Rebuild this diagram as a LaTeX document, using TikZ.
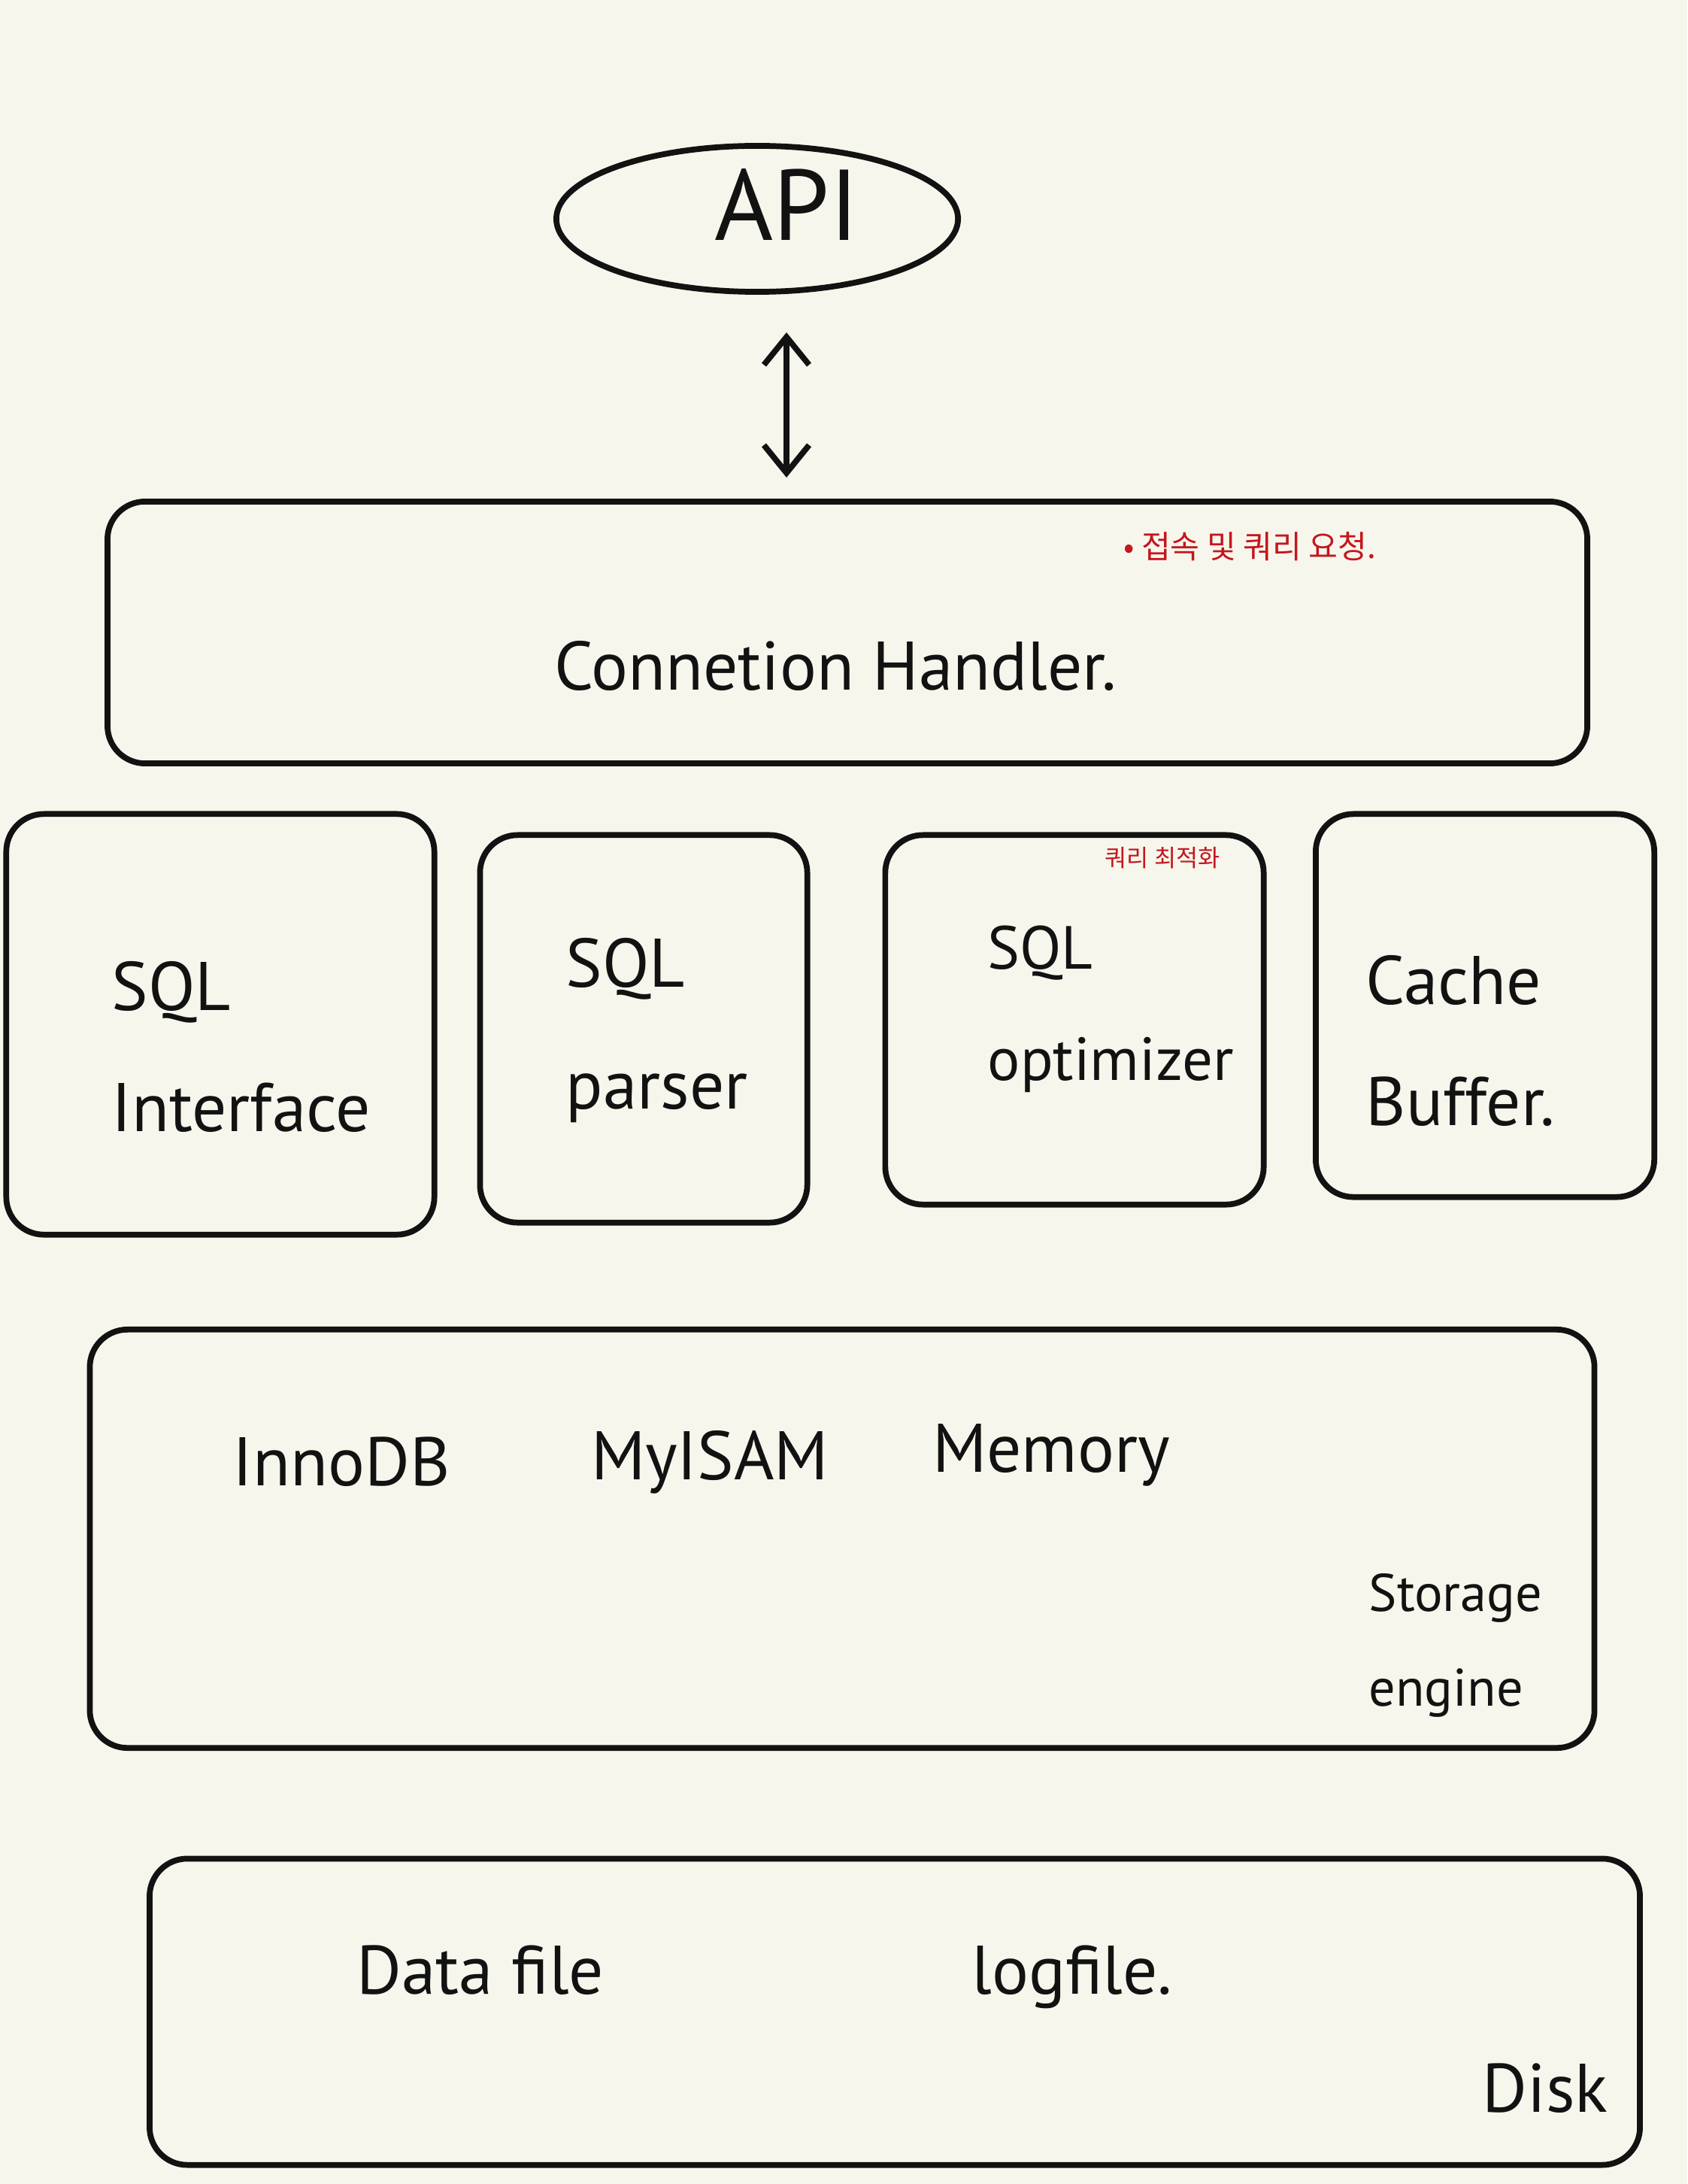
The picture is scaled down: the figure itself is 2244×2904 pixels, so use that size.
\documentclass[tikz,border=0pt]{standalone}
\usepackage{fontspec}
\setmainfont{PT Sans}
\newfontfamily\krfont{Noto Sans CJK KR}
\usetikzlibrary{arrows.meta,shapes.geometric}
\definecolor{paper}{RGB}{247,246,236}
\definecolor{pen}{RGB}{18,18,18}
\definecolor{note}{RGB}{196,22,30}
\tikzset{
  box/.style={draw=pen, line width=2.2pt, rounded corners=0.5cm, inner sep=0pt},
  hand/.style={text=pen, font=\fontsize{26}{46}\selectfont, align=left, inner sep=0pt},
  memo/.style={text=note, inner sep=0pt},
}
\begin{document}
\begin{tikzpicture}[x=0.01cm, y=-0.01cm]
  \fill[paper] (0,0) rectangle (2244,2904);
  \useasboundingbox (0,0) rectangle (2244,2904);

  % api and connection layer
  \node[box, ellipse, minimum width=5.34cm, minimum height=1.94cm] (api) at (1007,291) {};
  \node[hand, font=\fontsize{38}{40}\selectfont] (apitxt) at (1046,272) {API};
  \node[box, minimum width=19.67cm, minimum height=3.48cm] (handler) at (1127,841) {};
  \node[hand] (handlertxt) at (1111,885) {Connetion Handler.};
  \node[memo, font=\krfont\fontsize{12}{14}\selectfont] (note1) at (1662,727) {• 접속 및 쿼리 요청.};
  \draw[pen, line width=2.2pt, {Straight Barb[length=0.37cm,width=0.6cm]}-{Straight Barb[length=0.37cm,width=0.6cm]},
    shorten <=0.5cm, shorten >=0.28cm] (api.south -| apitxt) -- (handler.north -| apitxt);

  % sql layer
  \node[box, minimum width=5.69cm, minimum height=5.59cm] (sqlif) at (293,1362) {};
  \node[hand, anchor=west] (sqliftxt) at (148,1392) {SQL\\Interface};
  \node[box, minimum width=4.35cm, minimum height=5.15cm] (parser) at (856,1368) {};
  \node[hand, anchor=west] (parsertxt) at (752,1370) {SQL\\parser};
  \node[box, minimum width=5.03cm, minimum height=4.91cm] (optimizer) at (1429,1356) {};
  \node[hand, anchor=west, font=\fontsize{23}{42}\selectfont] (optimizertxt) at (1313,1342) {SQL\\optimizer};
  \node[memo, font=\krfont\fontsize{9}{11}\selectfont] (note2) at (1546,1141) {쿼리 최적화};
  \node[box, minimum width=4.5cm, minimum height=5.09cm] (cache) at (1975,1337) {};
  \node[hand, anchor=west] (cachetxt) at (1816,1384) {Cache\\Buffer.};

  % storage engine
  \node[box, minimum width=20cm, minimum height=5.56cm] (storage) at (1120,2046) {};
  \node[hand] (innodb) at (454,1944) {InnoDB};
  \node[hand] (myisam) at (944,1944) {MyISAM};
  \node[hand] (memory) at (1398,1935) {Memory};
  \node[hand, anchor=west, font=\fontsize{20}{36}\selectfont] (storagetxt) at (1820,2188) {Storage\\engine};

  % disk
  \node[box, minimum width=19.81cm, minimum height=4.07cm] (disk) at (1190,2675) {};
  \node[hand] (datafile) at (639,2620) {Data file};
  \node[hand] (logfile) at (1426,2629) {logfile.};
  \node[hand] (disktxt) at (2055,2777) {Disk};
\end{tikzpicture}
\end{document}
